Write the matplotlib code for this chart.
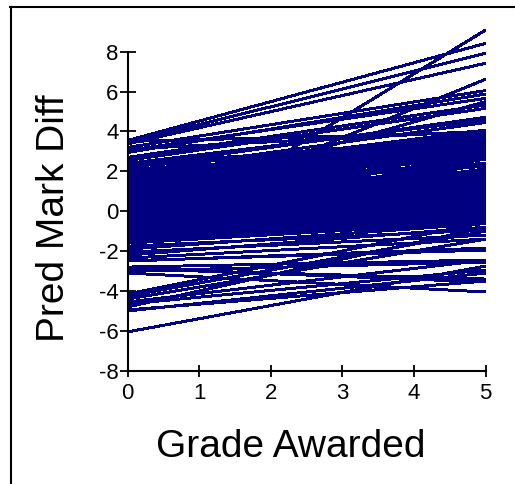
import matplotlib
matplotlib.use("Agg")
import matplotlib.pyplot as plt
from matplotlib.lines import Line2D

plt.rcParams["axes.unicode_minus"] = False

# grade awarded runs 0..5, one straight line per student
grade = [0, 5]

# predicted mark difference at grade 0 and at grade 5
# upper fan
fan_start = [3.55, 3.45, 3.38, 3.20, 2.95, 3.05, 2.70, 2.55, 2.20, 2.40, 1.95, 1.80, 1.60, 1.70, 1.50]
fan_end = [8.42, 7.92, 7.42, 6.05, 5.88, 5.66, 5.33, 5.16, 4.71, 4.57, 4.45, 4.07, 4.00, 3.90, 3.80]
# steep ones
steep_start = [-1.90, -0.70, 0.40]
steep_end = [9.09, 6.62, 5.50]
# flatter upper lines
flat_start = [3.50, 3.12, 2.30]
flat_end = [3.95, 4.02, 3.75]
# main band
mid_start = [-1.50, -1.45, -1.40, -1.33, -1.28, -1.20, -1.15, -1.08, -1.02, -0.95,
             -0.90, -0.83, -0.76, -0.70, -0.64, -0.57, -0.50, -0.44, -0.38, -0.31,
             -0.25, -0.18, -0.12, -0.05, 0.02, 0.08, 0.15, 0.21, 0.28, 0.34,
             0.40, 0.47, 0.53, 0.60, 0.66, 0.72, 0.79, 0.85, 0.92, 0.98,
             1.05, 1.20, 1.35, 1.50, 1.65, 1.80, 1.95, 2.10, 2.25, 2.40]
mid_end = [-0.45, -0.30, -0.38, -0.20, -0.25, -0.05, -0.12, 0.05, 0.00, 0.18,
           0.10, 0.30, 0.25, 0.42, 0.35, 0.55, 0.48, 0.65, 0.60, 0.78,
           0.72, 0.90, 0.85, 1.02, 0.96, 1.15, 1.08, 1.28, 1.22, 1.40,
           1.35, 1.52, 1.46, 1.65, 1.58, 1.78, 1.72, 1.90, 1.84, 2.02,
           2.00, 2.25, 2.40, 2.60, 2.75, 2.90, 3.05, 3.20, 3.40, 3.55]
mid2_start = [-1.47, -1.40, -1.33, -1.26, -1.19, -1.12, -1.05, -0.98, -0.91, -0.84,
              -0.77, -0.70, -0.63, -0.56, -0.49, -0.42, -0.35, -0.28, -0.21, -0.14,
              -0.07, 0.00, 0.07, 0.14, 0.21, 0.28, 0.35, 0.42, 0.49, 0.56,
              0.63, 0.70, 0.77, 0.84, 0.91, 0.98, 1.05, 1.12, 1.19, 1.26]
mid2_end = [0.20, -0.40, 0.60, -0.15, 1.00, 0.15, 1.30, 0.40, 1.60, 0.68,
            1.85, 0.95, 2.10, 1.25, 2.35, 1.55, 2.62, 1.85, 2.85, 2.12,
            3.10, 2.42, 3.30, 2.70, 3.48, 2.95, 3.62, 3.15, 3.70, 3.35,
            3.75, 3.50, 3.65, 3.58, 3.72, 3.68, 3.78, 3.62, 3.74, 3.80]
# below the band
low_start = [-1.60, -1.75, -1.90, -2.05, -2.20, -2.35, -2.50]
low_end = [-0.55, -0.95, -0.62, -1.20, -0.80, -1.40, -1.85]
# bottom group
bot_start = [-2.48, -2.80, -2.90, -3.00, -3.10, -2.85,
             -4.15, -4.25, -4.40, -4.55, -4.65, -4.80, -4.95, -5.00, -6.05]
bot_end = [-1.95, -2.45, -3.40, -2.55, -4.05, -3.55,
           -0.55, -1.00, -1.40, -2.45, -2.95, -0.80, -3.50, -3.10, -2.75]

starts = fan_start + steep_start + flat_start + mid_start + mid2_start + low_start + bot_start
ends = fan_end + steep_end + flat_end + mid_end + mid2_end + low_end + bot_end

fig = plt.figure(figsize=(5.15, 4.84), dpi=100)
ax = fig.add_axes([0.248, 0.234, 0.695, 0.7086])

for s, e in zip(starts, ends):
    ax.plot(grade, [s, e], color="#000080", lw=1.4, solid_capstyle="butt",
            antialiased=False)

ax.set_xlim(0, 5)
ax.set_ylim(-8, 9.2)
ax.set_xticks([0, 1, 2, 3, 4, 5])
ax.set_yticks([-8, -6, -4, -2, 0, 2, 4, 6, 8])
for sp in ["top", "right"]:
    ax.spines[sp].set_visible(False)
ax.spines["left"].set_bounds(-8, 8)
ax.spines["left"].set_linewidth(1.5)
ax.spines["bottom"].set_linewidth(1.5)
ax.tick_params(axis="y", direction="inout", length=11, width=1.3, pad=1)
ax.tick_params(axis="x", direction="inout", length=8, width=1.3, pad=5)

tick_font = ["Liberation Sans Narrow", "Liberation Sans", "DejaVu Sans"]
for lab in ax.get_xticklabels() + ax.get_yticklabels():
    lab.set_family(tick_font)
    lab.set_fontsize(16)

fig.text(291 / 515, 1 - 447 / 484, "Grade Awarded", ha="center", va="center",
         fontsize=28, family=["Liberation Sans", "DejaVu Sans"])
fig.text(54 / 515, 1 - 218 / 484, "Pred Mark Diff", ha="center", va="center",
         rotation=90, fontsize=28, family=["Liberation Sans", "DejaVu Sans"])

# outer frame
fig.add_artist(Line2D([10.5 / 515, 10.5 / 515], [0, 1 - 7 / 484], color="black", lw=1.5))
fig.add_artist(Line2D([10 / 515, 1], [1 - 7 / 484, 1 - 7 / 484], color="black", lw=1.5))

fig.savefig("out.png", dpi=100)
